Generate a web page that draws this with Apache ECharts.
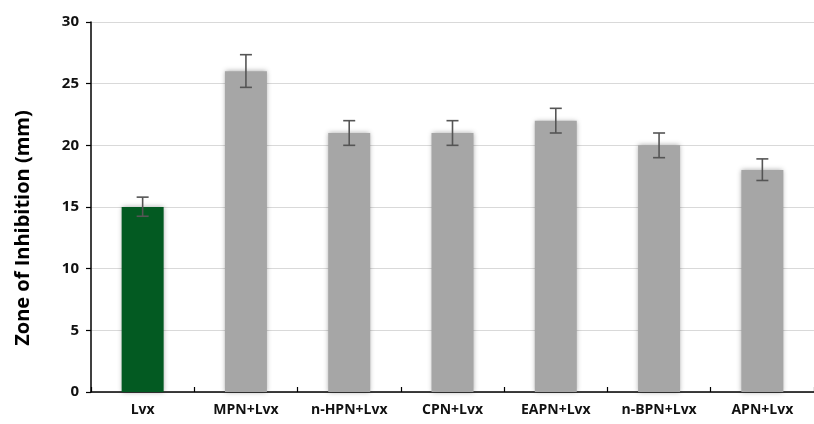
<!DOCTYPE html>
<html>
<head>
<meta charset="utf-8">
<script src="https://cdn.jsdelivr.net/npm/echarts@6/dist/echarts.min.js"></script>
<style>
  html, body { margin: 0; padding: 0; background: #fff; }
  #chart { width: 814px; height: 424px; }
</style>
</head>
<body>
<div id="chart"></div>
<script>
// Zone of inhibition by extract combination
const categories = ['Lvx', 'MPN+Lvx', 'n-HPN+Lvx', 'CPN+Lvx', 'EAPN+Lvx', 'n-BPN+Lvx', 'APN+Lvx'];
const zoneValues = [15, 26, 21, 21, 22, 20, 18];
const errorLow  = [0.75, 1.3, 1.0, 1.0, 1.0, 1.0, 0.85];
const errorHigh = [0.8, 1.35, 1.0, 1.0, 1.0, 1.0, 0.9];
const yTicks = [0, 5, 10, 15, 20, 25, 30];

const chart = echarts.init(document.getElementById('chart'));

const barColors = categories.map((c, i) => i === 0 ? '#035a22' : '#a6a6a6');

chart.setOption({
  animation: false,
  grid: { left: 91, top: 22, width: 733, height: 370, containLabel: false },
  xAxis: {
    type: 'category',
    data: categories,
    axisLine: { lineStyle: { color: '#000', width: 1.5 } },
    axisTick: { show: true, inside: true, length: 5, alignWithLabel: false, lineStyle: { color: '#000', width: 1.2 } },
    axisLabel: { color: '#111', fontFamily: 'Open Sans', fontWeight: 'bold', fontSize: 14, margin: 11 }
  },
  yAxis: {
    type: 'value',
    min: yTicks[0],
    max: yTicks[yTicks.length - 1],
    interval: 5,
    name: 'Zone of Inhibition (mm)',
    nameLocation: 'middle',
    nameGap: 58,
    nameTextStyle: { color: '#000', fontFamily: 'Open Sans', fontWeight: 'bold', fontSize: 20, padding: [0, 42, 0, 0] },
    axisLine: { show: true, lineStyle: { color: '#000', width: 1.5 } },
    axisTick: { show: true, length: 5, lineStyle: { color: '#000', width: 1.2 } },
    axisLabel: { color: '#111', fontFamily: 'Open Sans', fontWeight: 'bold', fontSize: 15, margin: 12 },
    splitLine: { lineStyle: { color: '#d9d9d9', width: 1.2 } }
  },
  series: [
    {
      type: 'bar',
      data: zoneValues.map((v, i) => ({ value: v, itemStyle: { color: barColors[i] } })),
      barWidth: 42,
      itemStyle: { shadowColor: 'rgba(0,0,0,0.35)', shadowBlur: 5 }
    },
    {
      type: 'custom',
      data: zoneValues.map((v, i) => [i, v - errorLow[i], v + errorHigh[i]]),
      z: 10,
      renderItem: function (params, api) {
        const x = api.value(0);
        const lo = api.coord([x, api.value(1)]);
        const hi = api.coord([x, api.value(2)]);
        const half = 6;
        const style = { stroke: '#555', lineWidth: 1.6 };
        return {
          type: 'group',
          children: [
            { type: 'line', shape: { x1: hi[0], y1: hi[1], x2: lo[0], y2: lo[1] }, style },
            { type: 'line', shape: { x1: hi[0] - half, y1: hi[1], x2: hi[0] + half, y2: hi[1] }, style },
            { type: 'line', shape: { x1: lo[0] - half, y1: lo[1], x2: lo[0] + half, y2: lo[1] }, style }
          ]
        };
      }
    }
  ]
});
</script>
</body>
</html>
